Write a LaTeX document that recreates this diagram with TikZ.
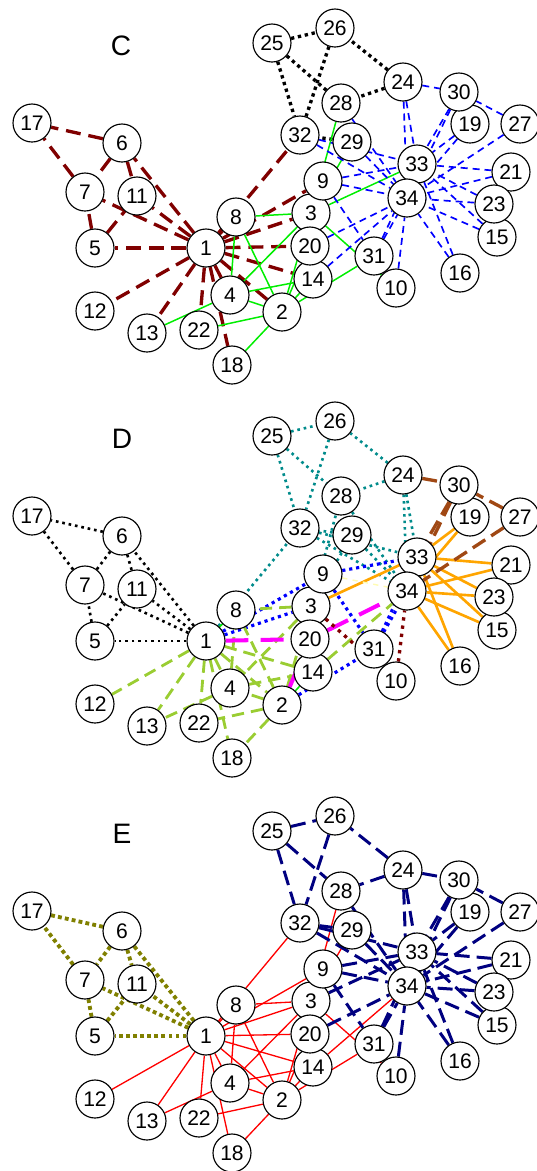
\documentclass[tikz,border=0pt]{standalone}
\usepackage{fontspec}
\setmainfont{Liberation Sans}
\usetikzlibrary{backgrounds}
\definecolor{maroonr}{RGB}{128,0,0}
\definecolor{limeg}{RGB}{0,238,0}
\definecolor{tealc}{RGB}{0,139,139}
\definecolor{ygreen}{RGB}{154,205,50}
\definecolor{orangec}{RGB}{255,165,0}
\definecolor{siennac}{RGB}{160,72,20}
\definecolor{olivec}{RGB}{128,128,0}
\definecolor{navyc}{RGB}{0,0,128}
\definecolor{magentac}{RGB}{255,0,255}
\definecolor{bluec}{RGB}{0,0,255}
\definecolor{redc}{RGB}{255,0,0}
\tikzset{
  vtx/.style={draw,circle,fill=white,minimum size=0.76cm,inner sep=0,line width=0.65pt,
    font=\fontsize{12}{14}\selectfont},
  panel/.style={inner sep=0,font=\fontsize{16}{18}\selectfont},
  % panel C
  cred/.style={maroonr,line width=1.9pt,dash pattern=on 8.5pt off 4.5pt},
  cblk/.style={black,line width=1.9pt,dash pattern=on 1.9pt off 2.1pt},
  cgrn/.style={limeg,line width=0.85pt},
  cblu/.style={bluec,line width=0.95pt,dash pattern=on 4pt off 2.8pt},
  % panel D
  dblk/.style={black,line width=1.5pt,dash pattern=on 1.5pt off 2.2pt},
  dteal/.style={tealc,line width=1.5pt,dash pattern=on 1.5pt off 2.2pt},
  dblu/.style={bluec,line width=1.8pt,dash pattern=on 1.8pt off 2.2pt},
  dyg/.style={ygreen,line width=1.6pt,dash pattern=on 7pt off 4pt},
  dgrn/.style={limeg,line width=0.85pt},
  dmag/.style={magentac,line width=2.3pt,dash pattern=on 13pt off 7pt},
  dred/.style={maroonr,line width=1.9pt,dash pattern=on 1.9pt off 2.8pt},
  dorg/.style={orangec,line width=1.5pt},
  dbrn/.style={siennac,line width=1.9pt,dash pattern=on 8.5pt off 4pt},
  dpale/.style={yellow!30,line width=0.8pt,dash pattern=on 3pt off 3pt},
  % panel E
  eolv/.style={olivec,line width=2.2pt,dash pattern=on 2.2pt off 1.8pt},
  ered/.style={redc,line width=0.75pt},
  enav/.style={navyc,line width=1.7pt,dash pattern=on 8.5pt off 4pt}
}
\newcommand{\drawvtx}{\node[vtx]}
\newcommand{\drawlabel}{\node[panel]}

\begin{document}
\begin{tikzpicture}[x=0.02cm,y=-0.02cm]
\useasboundingbox (0,0) rectangle (537,1171);

\drawlabel (labC) at (121,46) {C};
\drawlabel (labD) at (122,439) {D};
\drawlabel (labE) at (122,834) {E};

% same layout in the three panels
\foreach \p/\dy in {c/0,d/393,e/788}{
  \foreach \n/\x/\y in {1/206/248,2/282/312,3/311/213,4/230/295,5/95/248,6/122/143,
      7/85/192,8/236/217,9/323/181,10/396/288,11/137/196,12/95/311,13/147/333,
      14/313/279,15/497/237,16/460/273,17/32/123,18/232/365,19/470/124,20/310/246,
      21/511/172,22/199/330,23/494/204,24/403/82,25/272/43,26/335/28,27/520/124,
      28/341/103,29/352/142,30/459/92,31/374/256,32/300/135,33/417/164,34/407/198}
    \drawvtx (\p\n) at ({\x},{\y+\dy}) {\n};
}

\begin{scope}[on background layer]
% C
\foreach \a/\b in {1/2,1/3,1/4,1/5,1/6,1/7,1/8,1/9,1/11,1/12,1/13,1/14,1/18,1/20,1/22,1/32,
    5/7,5/11,6/7,6/11,6/17,7/17}
  \draw[cred] (c\a) -- (c\b);
\foreach \a/\b in {24/26,24/28,25/26,25/28,25/32,26/32,29/32}
  \draw[cblk] (c\a) -- (c\b);
\foreach \a/\b in {2/3,2/4,2/8,2/14,2/18,2/20,2/22,2/31,3/4,3/8,3/9,3/10,3/14,3/28,3/29,3/33,
    4/8,4/13,4/14}
  \draw[cgrn] (c\a) -- (c\b);
\foreach \a/\b in {9/31,9/33,9/34,10/34,14/34,15/33,15/34,16/33,16/34,19/33,19/34,20/34,
    21/33,21/34,23/33,23/34,24/30,24/33,24/34,27/30,27/34,28/34,29/34,30/33,30/34,31/33,
    31/34,32/33,32/34,33/34}
  \draw[cblu] (c\a) -- (c\b);

% D
\foreach \a/\b in {1/5,1/6,1/7,1/11,5/7,5/11,6/7,6/11,6/17,7/17}
  \draw[dblk] (d\a) -- (d\b);
\foreach \a/\b in {1/32,3/28,3/29,24/26,24/28,24/33,24/34,25/26,25/28,25/32,26/32,28/34,
    29/32,29/34,32/33,32/34}
  \draw[dteal] (d\a) -- (d\b);
\foreach \a/\b in {1/3,1/9,2/31,3/9,9/31,9/33,31/33,31/34}
  \draw[dblu] (d\a) -- (d\b);
\foreach \a/\b in {1/2,1/4,1/12,1/13,1/14,1/18,1/22,2/3,2/4,2/8,2/18,2/22,3/4,3/8,3/14,
    4/8,4/13,4/14,14/34}
  \draw[dyg] (d\a) -- (d\b);
\foreach \a/\b in {1/8,2/14}
  \draw[dgrn] (d\a) -- (d\b);
\foreach \a/\b in {1/20,2/20,20/34}
  \draw[dmag] (d\a) -- (d\b);
\foreach \a/\b in {3/10,10/34}
  \draw[dred] (d\a) -- (d\b);
\foreach \a/\b in {3/33,15/33,15/34,16/33,16/34,19/33,19/34,21/33,21/34,23/33,23/34,33/34}
  \draw[dorg] (d\a) -- (d\b);
\foreach \a/\b in {24/30,27/30,27/34,30/33,30/34}
  \draw[dbrn] (d\a) -- (d\b);
\draw[dpale] (d9) -- (d34);

% E
\foreach \a/\b in {1/5,1/6,1/7,1/11,5/7,5/11,6/7,6/11,6/17,7/17}
  \draw[eolv] (e\a) -- (e\b);
\foreach \a/\b in {1/2,1/3,1/4,1/8,1/9,1/12,1/13,1/14,1/18,1/20,1/22,1/32,2/3,2/4,2/8,
    2/14,2/18,2/20,2/22,2/31,3/4,3/8,3/9,3/10,3/14,3/28,3/29,4/8,4/13,4/14,14/34}
  \draw[ered] (e\a) -- (e\b);
\foreach \a/\b in {3/33,9/31,9/33,9/34,10/34,15/33,15/34,16/33,16/34,19/33,19/34,20/34,
    21/33,21/34,23/33,23/34,24/26,24/28,24/30,24/33,24/34,25/26,25/28,25/32,26/32,27/30,
    27/34,28/34,29/32,29/34,30/33,30/34,31/33,31/34,32/33,32/34,33/34}
  \draw[enav] (e\a) -- (e\b);
\end{scope}

\end{tikzpicture}
\end{document}
